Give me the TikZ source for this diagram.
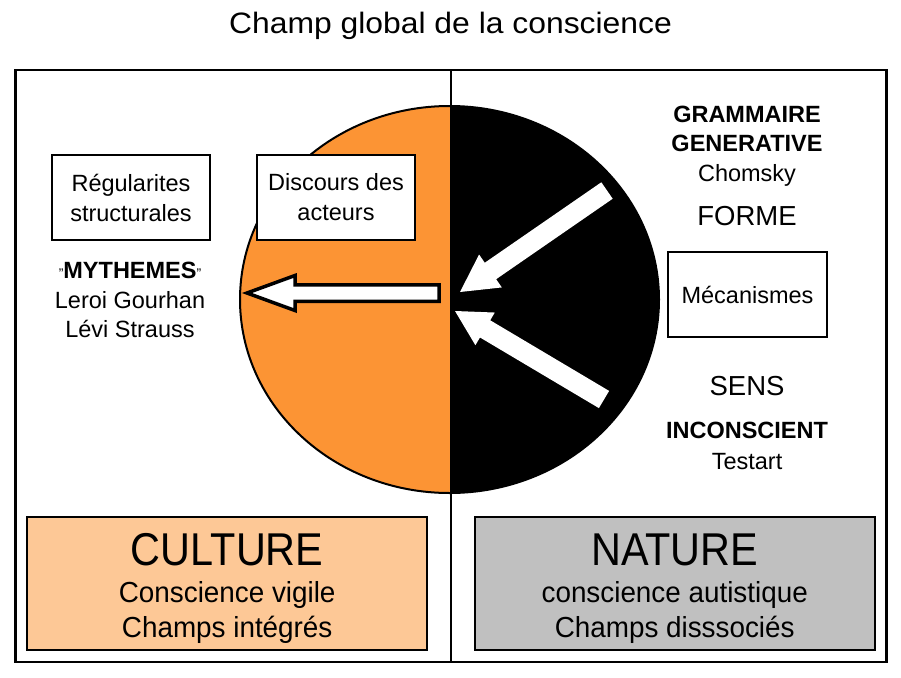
\documentclass[tikz,border=0pt]{standalone}
\usepackage{fontspec}
\setmainfont{Liberation Sans}
\newfontfamily\titlefont[FakeStretch=1.08]{Liberation Sans}
\newfontfamily\condfont[FakeStretch=0.9]{Liberation Sans}
\newfontfamily\semicondfont[FakeStretch=0.96]{Liberation Sans}
\usetikzlibrary{calc}
\definecolor{orangefill}{RGB}{252,148,52}
\definecolor{peachfill}{RGB}{253,200,150}
\definecolor{greyfill}{RGB}{192,192,192}
\newcommand{\fsz}[1]{\fontsize{#1}{#1}\selectfont}
% tail, tip, half shaft width, half head width, head length
\newcommand{\fatarrow}[5]{%
  \coordinate (fab) at ($(#2)!#5!(#1)$);
  \fill[white] ($(#1)!#3!90:(#2)$) -- ($(fab)!#3!-90:(#1)$) -- ($(fab)!#4!-90:(#1)$) -- (#2)
    -- ($(fab)!#4!90:(#1)$) -- ($(fab)!#3!90:(#1)$) -- ($(#1)!#3!-90:(#2)$) -- cycle;}
\begin{document}
\begin{tikzpicture}[x=1pt,y=-1pt,
  plainbox/.style={draw, line width=2pt, fill=white, inner sep=0pt, align=center,
    font={\fontsize{23.5}{30}\selectfont}},
  bigbox/.style={draw, line width=2pt, inner sep=0pt, minimum width=400pt, minimum height=133.5pt},
  txt/.style={anchor=base, inner sep=0pt, font={\fontsize{23.5}{30}\selectfont}},
  btxt/.style={anchor=base, inner sep=0pt, font={\bfseries\fontsize{23.5}{30}\selectfont}},
  mtxt/.style={anchor=base, inner sep=0pt, font={\fontsize{27.5}{30}\selectfont}},
  headtxt/.style={anchor=base, inner sep=0pt, font={\condfont\fontsize{46}{46}\selectfont}},
  subtxt/.style={anchor=base, inner sep=0pt, font={\semicondfont\fontsize{29}{30}\selectfont}}]
\useasboundingbox (0,0) rectangle (901,677);

% title
\node[anchor=base, inner sep=0pt, font={\titlefont\fontsize{29.5}{30}\selectfont}] (title) at (450.5,33.3) {Champ global de la conscience};

% split ellipse
\coordinate (ec) at (449.5,299.5);
\begin{scope}
  \clip (0,0) rectangle (451,677);
  \fill[orangefill] (ec) ellipse [x radius=209.5pt, y radius=193.5pt];
\end{scope}
\begin{scope}
  \clip (451,0) rectangle (901,677);
  \fill[black] (ec) ellipse [x radius=209.5pt, y radius=193.5pt];
\end{scope}
\draw[line width=2pt] (ec) ellipse [x radius=209.5pt, y radius=193.5pt];

% frame and divider
\draw[line width=2.5pt] (15.5,70) rectangle (886.5,662);
\coordinate (dtop) at (451,70);
\coordinate (dbot) at (451,662);
\draw[line width=2.5pt] (dtop) -- (dbot);

% white arrows in the black half
\coordinate (uatail) at (607,190.5);
\coordinate (uatip) at (460,292);
\fatarrow{uatail}{uatip}{10pt}{20pt}{37pt}
\coordinate (latail) at (604,399.5);
\coordinate (latip) at (455,311);
\fatarrow{latail}{latip}{10pt}{19pt}{35pt}

% outlined arrow in the orange half
\coordinate (ltail) at (439,293);
\coordinate (ltip) at (247,293);
\draw[line width=3.5pt, fill=white, line join=miter]
  ($(ltail)+(0,-8.25)$) -- (295,284.75) -- (295,275.5) -- (ltip) -- (295,310.5) -- (295,301.25) -- ($(ltail)+(0,8.25)$) -- cycle;

% left boxes and texts
\node[plainbox, minimum width=158pt, minimum height=85pt] (regul) at (131,197.5) {Régularites\\structurales};
\node[plainbox, minimum width=158pt, minimum height=85pt] (disc) at (336,197.5) {Discours des\\acteurs};
\node[txt] (myth) at (130,278.3) {{\fsz{14}"}\textbf{MYTHEMES}{\fsz{14}"}};
\node[txt] (leroi) at (130,308.3) {Leroi Gourhan};
\node[txt] (levi) at (130,337.3) {Lévi Strauss};

% right column
\node[btxt] (gram) at (747,122.3) {GRAMMAIRE};
\node[btxt] (gener) at (747,151) {GENERATIVE};
\node[txt] (chom) at (747,181.7) {Chomsky};
\node[mtxt] (forme) at (747,225) {FORME};
\node[plainbox, minimum width=159pt, minimum height=85pt] (meca) at (747.5,294.5) {Mécanismes};
\node[mtxt] (sens) at (747,395) {SENS};
\node[btxt] (incon) at (747,438.3) {INCONSCIENT};
\node[txt] (test) at (747,469) {Testart};

% bottom boxes
\node[bigbox, fill=peachfill] (cbox) at (227.2,583.7) {};
\node[headtxt] (cult) at (227.2,565) {CULTURE};
\node[subtxt] (vigil) at (227.2,602) {Conscience vigile};
\node[subtxt] (integ) at (227.2,637) {Champs intégrés};

\node[bigbox, fill=greyfill] (nbox) at (674.7,583.7) {};
\node[headtxt] (natu) at (674.7,565) {NATURE};
\node[subtxt] (autis) at (674.7,602) {conscience autistique};
\node[subtxt] (disso) at (674.7,637) {Champs disssociés};
\end{tikzpicture}
\end{document}
